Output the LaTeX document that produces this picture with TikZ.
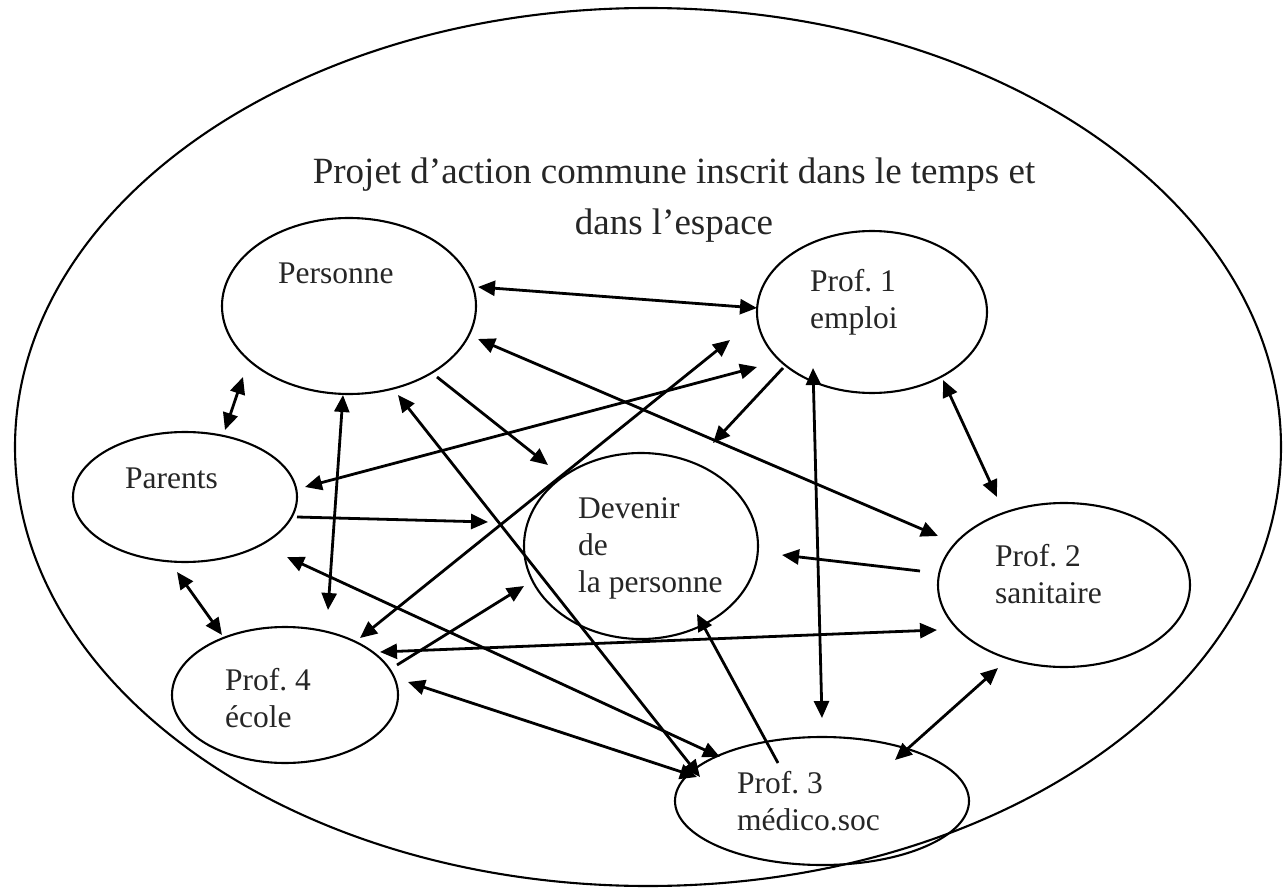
\documentclass[tikz,border=0pt]{standalone}
\usepackage{fontspec}
\setmainfont{Liberation Serif}
\usetikzlibrary{arrows.meta,shapes.geometric,calc}
\frenchspacing
\begin{document}
\begin{tikzpicture}[x=1pt,y=-1pt,
  box/.style={ellipse, draw, line width=2.1pt, inner sep=0pt, outer sep=0pt},
  lbl/.style={anchor=base west, align=left, inner sep=0pt, font=\fontsize{31.5}{37}\selectfont\frenchspacing, text=black!85},
  con/.style={line width=2.8pt},
  >={Triangle[length=17pt,width=15pt]}]
\useasboundingbox[fill=white] (0,0) rectangle (1286,888);
% outer frame
\node[box, minimum width=1266pt, minimum height=878pt] (outer) at (648,447) {};
% title (anchor = baseline of its last line)
\node[anchor=base, align=center, inner sep=0pt, font=\fontsize{37}{51}\selectfont, text=black!85] (title) at (674,234)
  {Projet d’action commune inscrit dans le temps et\\dans l’espace};
% ellipses
\node[box, minimum width=254pt, minimum height=176pt] (P)  at (349,306) {};
\node[box, minimum width=230pt, minimum height=162pt] (F1) at (872,312) {};
\node[box, minimum width=224pt, minimum height=130pt] (Pa) at (185,497) {};
\node[box, minimum width=234pt, minimum height=186pt] (D)  at (641,546) {};
\node[box, minimum width=252pt, minimum height=164pt] (F2) at (1064,585) {};
\node[box, minimum width=226pt, minimum height=136pt] (F4) at (285,695) {};
\node[box, minimum width=294pt, minimum height=128pt] (F3) at (822,801) {};
% labels (anchor = baseline of the last line)
\node[lbl] (Pt)  at (278,283) {Personne};
\node[lbl] (F1t) at (810,328) {Prof. 1\\emploi};
\node[lbl] (Pat) at (125,488) {Parents};
\node[lbl] (Dt)  at (578,592) {Devenir\\de\\la personne};
\node[lbl] (F2t) at (995,603) {Prof. 2\\sanitaire};
\node[lbl] (F4t) at (225,727) {Prof. 4\\école};
\node[lbl] (F3t) at (737,830) {Prof. 3\\médico.soc};
% connectors
\draw[con,<->] ($(P.center)+(129,-19)$) -- ($(F1.center)+(-115,-4)$);
\draw[con,<->] ($(P.center)+(129,33)$) -- ($(F2.center)+(-126,-49)$);
\draw[con,<->] ($(P.center)+(-106,71)$) -- ($(Pa.center)+(40,-67)$);
\draw[con,<->] ($(P.center)+(-6,89)$) -- ($(F4.center)+(43,-85)$);
\draw[con,<->] ($(P.center)+(49,89)$) -- ($(F3.center)+(-122,-24)$);
\draw[con,->]  ($(P.center)+(88,71)$) -- ($(D.center)+(-93,-81)$);
\draw[con,<->] ($(Pa.center)+(120,-10)$) -- ($(F1.center)+(-115,55)$);
\draw[con,->]  ($(Pa.center)+(112,20)$) -- ($(D.center)+(-153,-24)$);
\draw[con,<->] ($(Pa.center)+(-8,75)$) -- ($(F4.center)+(-63,-60)$);
\draw[con,<->] ($(Pa.center)+(102,60)$) -- ($(F3.center)+(-102,-44)$);
\draw[con,<->] ($(F4.center)+(95,-43)$) -- ($(F2.center)+(-127,45)$);
\draw[con,->]  ($(F4.center)+(112,-30)$) -- ($(D.center)+(-117,40)$);
\draw[con,<->] ($(F4.center)+(123,-13)$) -- ($(F3.center)+(-125,-24)$);
\draw[con,<->] ($(F4.center)+(75,-57)$) -- ($(F1.center)+(-142,28)$);
\draw[con,->]  ($(F3.center)+(-44,-38)$) -- ($(D.center)+(56,68)$);
\draw[con,<->] ($(F1.center)+(-59,56)$) -- ($(F3.center)+(0,-83)$);
\draw[con,<->] ($(F1.center)+(71,68)$) -- ($(F2.center)+(-67,-88)$);
\draw[con,->]  ($(F2.center)+(-144,-14)$) -- ($(D.center)+(141,9)$);
\draw[con,<->] ($(F3.center)+(73,-41)$) -- ($(F2.center)+(-66,83)$);
\draw[con,->]  ($(F1.center)+(-89,56)$) -- ($(D.center)+(72,-103)$);
\end{tikzpicture}
\end{document}
